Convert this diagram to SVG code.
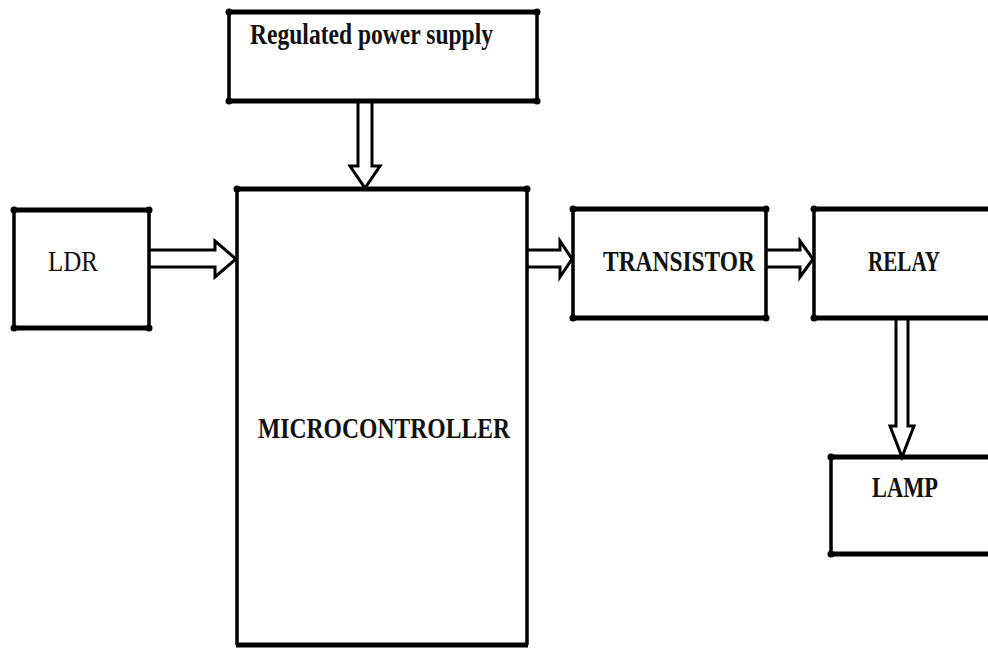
<svg xmlns="http://www.w3.org/2000/svg" width="988" height="648" viewBox="0 0 988 648">
<style>
.h{stroke:#000;stroke-width:5;fill:none}
.v{stroke:#000;stroke-width:3.5;fill:none}
.d{fill:#000}
.t{font-family:"Liberation Serif","Times New Roman",serif;font-size:24px;fill:#111}
.b{font-weight:bold}
.ar{fill:#fff;stroke:#000;stroke-width:3;stroke-linejoin:miter}
</style>
<rect width="988" height="648" fill="#fff"/>
<g id="connectors">
<path class="ar" d="M358,101 V166 H350 L365,188 L380,166 H372 V101"/>
<path class="ar" d="M150,250 H215 V241 L236,259 L215,277 V267 H150"/>
<path class="ar" d="M528,250 H560 V241 L572,259 L560,277 V267 H528"/>
<path class="ar" d="M767,250 H800 V241 L813,259 L800,277 V267 H767"/>
<path class="ar" d="M896,318 V426 H890 L902,457 L914,426 H908 V318"/>
</g>
<g id="power">
<line class="h" x1="228" y1="12" x2="538" y2="12"/>
<line class="h" x1="228" y1="101" x2="538" y2="101"/>
<line class="v" x1="229" y1="12" x2="229" y2="101"/>
<line class="v" x1="537" y1="12" x2="537" y2="101"/>
<circle class="d" cx="229" cy="12" r="3.5"/><circle class="d" cx="537" cy="12" r="3.5"/>
<circle class="d" cx="229" cy="101" r="3.5"/><circle class="d" cx="537" cy="101" r="3.5"/>
<text class="t b" transform="translate(250,44) scale(1,1.25)" textLength="243" lengthAdjust="spacingAndGlyphs">Regulated power supply</text>
</g>
<g id="mcu">
<line class="h" x1="236" y1="189" x2="528" y2="189"/>
<line class="h" x1="236" y1="645" x2="528" y2="645"/>
<line class="v" x1="237" y1="189" x2="237" y2="645"/>
<line class="v" x1="527" y1="189" x2="527" y2="645"/>
<circle class="d" cx="237" cy="189" r="3.5"/><circle class="d" cx="527" cy="189" r="3.5"/>
<text class="t b" transform="translate(258,438) scale(1,1.2)" textLength="252" lengthAdjust="spacingAndGlyphs">MICROCONTROLLER</text>
</g>
<g id="ldr">
<line class="h" x1="13" y1="210" x2="150" y2="210"/>
<line class="h" x1="13" y1="328" x2="150" y2="328"/>
<line class="v" x1="14" y1="210" x2="14" y2="328"/>
<line class="v" x1="149" y1="210" x2="149" y2="328"/>
<circle class="d" cx="14" cy="210" r="3.5"/><circle class="d" cx="149" cy="210" r="3.5"/>
<circle class="d" cx="14" cy="328" r="3.5"/><circle class="d" cx="149" cy="328" r="3.5"/>
<text class="t" transform="translate(48,271) scale(1,1.2)" textLength="50" lengthAdjust="spacingAndGlyphs">LDR</text>
</g>
<g id="transistor">
<line class="h" x1="572" y1="209" x2="767" y2="209"/>
<line class="h" x1="572" y1="318" x2="767" y2="318"/>
<line class="v" x1="573" y1="209" x2="573" y2="318"/>
<line class="v" x1="766" y1="209" x2="766" y2="318"/>
<circle class="d" cx="573" cy="209" r="3.5"/><circle class="d" cx="766" cy="209" r="3.5"/>
<circle class="d" cx="573" cy="318" r="3.5"/><circle class="d" cx="766" cy="318" r="3.5"/>
<text class="t b" transform="translate(603,271) scale(1,1.2)" textLength="152" lengthAdjust="spacingAndGlyphs">TRANSISTOR</text>
</g>
<g id="relay">
<line class="h" x1="813" y1="209" x2="988" y2="209"/>
<line class="h" x1="813" y1="318" x2="988" y2="318"/>
<line class="v" x1="814" y1="209" x2="814" y2="318"/>
<circle class="d" cx="814" cy="209" r="3.5"/><circle class="d" cx="814" cy="318" r="3.5"/>
<text class="t b" transform="translate(868,271) scale(1,1.2)" textLength="72" lengthAdjust="spacingAndGlyphs">RELAY</text>
</g>
<g id="lamp">
<line class="h" x1="830" y1="457" x2="988" y2="457"/>
<line class="h" x1="830" y1="554" x2="988" y2="554"/>
<line class="v" x1="831" y1="457" x2="831" y2="554"/>
<circle class="d" cx="831" cy="457" r="3.5"/><circle class="d" cx="831" cy="554" r="3.5"/>
<text class="t b" transform="translate(872,497) scale(1,1.2)" textLength="66" lengthAdjust="spacingAndGlyphs">LAMP</text>
</g>
</svg>
